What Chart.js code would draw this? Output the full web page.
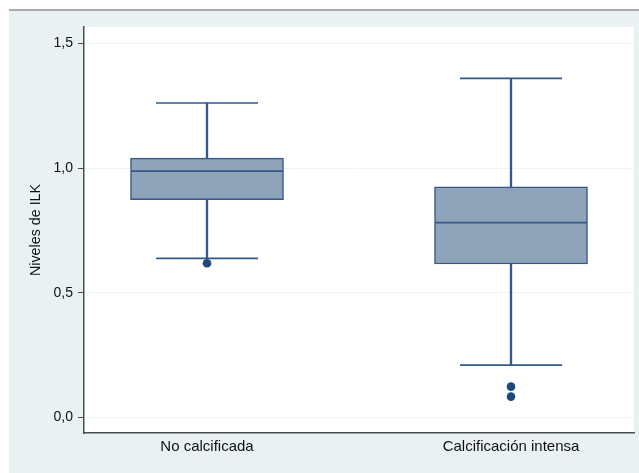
<!DOCTYPE html>
<html>
<head>
<meta charset="utf-8">
<script src="https://cdn.jsdelivr.net/npm/chart.js@4.4.1/dist/chart.umd.min.js"></script>
<style>
    html, body { margin: 0; padding: 0; background: #fff; }
    #wrap { width: 639px; height: 473px; }
</style>
</head>
<body>
<div id="wrap"><canvas id="boxChart"></canvas></div>
<script>
        // Data
        const categories = ['No calcificada', 'Calcificación intensa'];
        const whiskerLow = [0.638, 0.209];
        const q1 = [0.873, 0.615];
        const median = [0.988, 0.781];
        const q3 = [1.040, 0.925];
        const whiskerHigh = [1.261, 1.360];
        const outliers = [[0.618], [0.123, 0.083]];
        const yTicks = [0, 0.5, 1.0, 1.5];
        const yTickLabels = ['0,0', '0,5', '1,0', '1,5'];

        const lineColor = '#33598a';
        const fillColor = '#8fa3b9';
        const family = "'Liberation Sans', Arial, sans-serif";

        const at = (arr) => arr.map((v, i) => ({ x: i + 1, y: v }));
        const range = (a, b) => a.map((v, i) => ({ x: i + 1, y: [v, b[i]] }));
        const outlierPts = [];
        outliers.forEach((list, i) => list.forEach(v => outlierPts.push({ x: i + 1, y: v })));

        // keep the layout from reserving room for edge labels
        const noPad = (axis) => {
            axis.paddingLeft = 0;
            axis.paddingRight = 0;
            axis.paddingTop = 0;
            axis.paddingBottom = 0;
        };

        // Background: outer panel, top rule, white plot region
        const backdrop = {
            id: 'backdrop',
            beforeDraw(chart) {
                const { ctx, chartArea: a, width, height } = chart;
                ctx.save();
                ctx.fillStyle = '#ffffff';
                ctx.fillRect(0, 0, width, height);
                ctx.fillStyle = '#e9f1f3';
                ctx.fillRect(9, 11, width - 9, height - 11);
                ctx.fillStyle = '#a9a9a9';
                ctx.fillRect(9, 9, width - 9, 2);
                ctx.fillStyle = '#ffffff';
                ctx.fillRect(a.left, a.top, a.right - a.left, a.bottom - a.top);
                ctx.restore();
            }
        };

        const ctx = document.getElementById('boxChart').getContext('2d');
        new Chart(ctx, {
            type: 'bar',
            data: {
                datasets: [{
                    label: 'box',
                    data: range(q1, q3),
                    backgroundColor: fillColor,
                    borderColor: lineColor,
                    borderWidth: 1.5,
                    borderSkipped: false,
                    barThickness: 153,
                    grouped: false,
                    order: 3
                }, {
                    label: 'upper stem',
                    data: range(q3, whiskerHigh),
                    backgroundColor: lineColor,
                    borderWidth: 0,
                    barThickness: 1.7,
                    grouped: false,
                    order: 2
                }, {
                    label: 'lower stem',
                    data: range(whiskerLow, q1),
                    backgroundColor: lineColor,
                    borderWidth: 0,
                    barThickness: 1.7,
                    grouped: false,
                    order: 2
                }, {
                    type: 'scatter',
                    label: 'median',
                    data: at(median),
                    showLine: false,
                    pointStyle: 'line',
                    pointRadius: 76,
                    borderColor: lineColor,
                    borderWidth: 1.7,
                    order: 1
                }, {
                    type: 'scatter',
                    label: 'caps',
                    data: at(whiskerHigh).concat(at(whiskerLow)),
                    showLine: false,
                    pointStyle: 'line',
                    pointRadius: 51,
                    borderColor: lineColor,
                    borderWidth: 1.7,
                    order: 1
                }, {
                    type: 'scatter',
                    label: 'outliers',
                    data: outlierPts,
                    showLine: false,
                    pointStyle: 'circle',
                    pointRadius: 4.3,
                    backgroundColor: '#1c4a7c',
                    borderColor: '#1c4a7c',
                    borderWidth: 0,
                    order: 0
                }]
            },
            options: {
                responsive: true,
                maintainAspectRatio: false,
                animation: false,
                events: [],
                layout: { autoPadding: false, padding: { left: 9, top: 27, right: 5, bottom: 0 } },
                plugins: {
                    legend: { display: false },
                    tooltip: { enabled: false }
                },
                scales: {
                    x: {
                        type: 'linear',
                        offset: false,
                        min: 0.5954,
                        max: 2.4046,
                        afterBuildTicks: (axis) => {
                            axis.ticks = categories.map((c, i) => ({ value: i + 1 }));
                        },
                        afterFit: (axis) => { axis.height = 40; noPad(axis); },
                        grid: { display: true, offset: false, drawOnChartArea: false, drawTicks: false },
                        border: { display: true, color: '#4d4d4d', width: 1.5 },
                        ticks: {
                            padding: 5,
                            color: '#111',
                            font: { family: family, size: 15 },
                            autoSkip: false,
                            maxRotation: 0,
                            callback: (v) => categories[Math.round(v) - 1]
                        }
                    },
                    y: {
                        min: -0.063,
                        max: 1.566,
                        afterBuildTicks: (axis) => {
                            axis.ticks = yTicks.map(v => ({ value: v }));
                        },
                        afterFit: (axis) => { axis.width = 75; noPad(axis); },
                        grid: { color: '#eef3f3', tickColor: '#4d4d4d', tickLength: 6, lineWidth: 1 },
                        border: { display: true, color: '#4d4d4d', width: 1.5 },
                        ticks: {
                            padding: 5,
                            color: '#111',
                            font: { family: family, size: 14 },
                            callback: (v, i) => yTickLabels[i]
                        },
                        title: {
                            display: true,
                            text: 'Niveles de ILK',
                            color: '#111',
                            font: { family: family, size: 14.3 },
                            padding: { top: 18, bottom: 0 }
                        }
                    }
                }
            },
            plugins: [backdrop]
        });
</script>
</body>
</html>
